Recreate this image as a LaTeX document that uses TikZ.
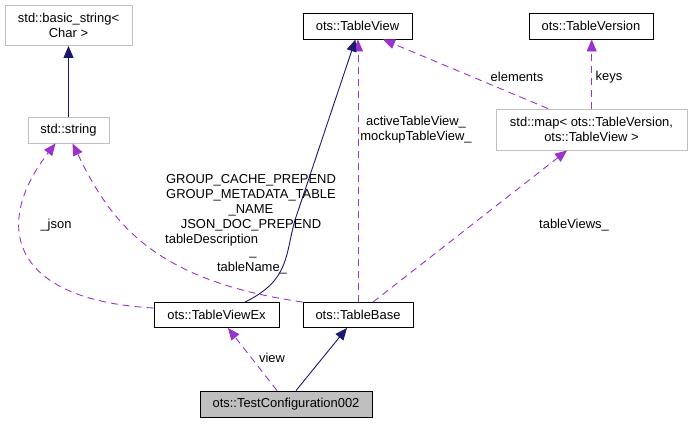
\documentclass[tikz,border=0pt]{standalone}
\usepackage{fontspec}
\setmainfont{Liberation Sans}
\usetikzlibrary{arrows.meta,calc}
\definecolor{navy}{HTML}{191970}
\definecolor{purp}{HTML}{9A32CD}
\definecolor{gborder}{HTML}{BFBFBF}
\begin{document}
\begin{tikzpicture}[x=1bp,y=-1bp,
  font=\fontsize{13}{15}\selectfont,
  box/.style={draw=black, line width=0.9bp, inner sep=0pt, align=center},
  gbox/.style={box, draw=gborder},
  inh/.style={draw=navy, line width=0.9bp, -{Triangle[length=12bp,width=10bp]}},
  use/.style={draw=purp, line width=0.9bp, dash pattern=on 7bp off 5bp, -{Triangle[length=12bp,width=10bp]}},
  lbl/.style={inner sep=0pt}]
\useasboundingbox[fill=white] (0,0) rectangle (692,423);

\node[gbox, minimum width=127bp, minimum height=40bp] (bs) at (68.5,25.5) {std::basic\_string<\\Char >};
\node[gbox, minimum width=81bp, minimum height=26bp] (str) at (68.5,130) {std::string};
\node[box, minimum width=109bp, minimum height=26bp] (tv) at (357.5,26) {ots::TableView};
\node[box, minimum width=124bp, minimum height=26bp] (tver) at (591,26) {ots::TableVersion};
\node[gbox, minimum width=191bp, minimum height=41bp] (map) at (591.5,129.5) {std::map< ots::TableVersion,\\ots::TableView >};
\node[box, minimum width=125bp, minimum height=25bp] (tvex) at (216.5,315) {ots::TableViewEx};
\node[box, minimum width=110bp, minimum height=25bp] (tb) at (358,315) {ots::TableBase};
\node[box, fill=gborder, minimum width=172bp, minimum height=26bp] (tc) at (286,404) {ots::TestConfiguration002};

% edges
\draw[inh] (str) -- (bs);
\draw[use] ($(tvex.west)+(0,-7)$) .. controls (10,300) and (-8,225) .. ($(str.south)+(-13,0)$);
\draw[use] (tb.north west) .. controls (150,280) and (110,220) .. ($(str.south)+(4,0)$);
\draw[use] (tb.north) -- (tb.north |- tv.south);
\draw[inh] ($(tvex.north)+(28.5,0)$) .. controls (290,280) and (285,255) .. (295,220) -- ($(tv.south)+(-2,0)$);
\draw[use] ($(map.north)+(-43.5,0)$) -- ($(tv.south)+(25.5,0)$);
\draw[use] ($(map.north)+(0.2,0)$) -- ($(map.north |- tver.south)+(0.2,0)$);
\draw[use] ($(tb.north)+(15,0)$) -- ($(map.south)+(-24.5,0)$);
\draw[use] ($(tc.north)+(-9,0)$) -- ($(tvex.south)+(11.5,0)$);
\draw[inh] ($(tc.north)+(10,0)$) -- ($(tb.south)+(-11,0)$);

% labels
\node[lbl] (ljson) at (56,225) {\_json};
\node[lbl, align=center] (lgrp) at (251,202.5) {GROUP\_CACHE\_PREPEND\\GROUP\_METADATA\_TABLE\\\_NAME\\JSON\_DOC\_PREPEND};
\node[lbl, anchor=west] (ldesc) at (165,240) {tableDescription};
\node[lbl, anchor=base, text height=0pt, text depth=2.5bp] (lus) at (253,255) {\_};
\node[lbl] (lname) at (252,268) {tableName\_};
\node[lbl, align=center] (lact) at (416,129.5) {activeTableView\_\\mockupTableView\_};
\node[lbl] (lel) at (517,77) {elements};
\node[lbl] (lkeys) at (609,77) {keys};
\node[lbl] (ltv) at (574,225) {tableViews\_};
\node[lbl] (lview) at (272,358) {view};
\end{tikzpicture}
\end{document}
